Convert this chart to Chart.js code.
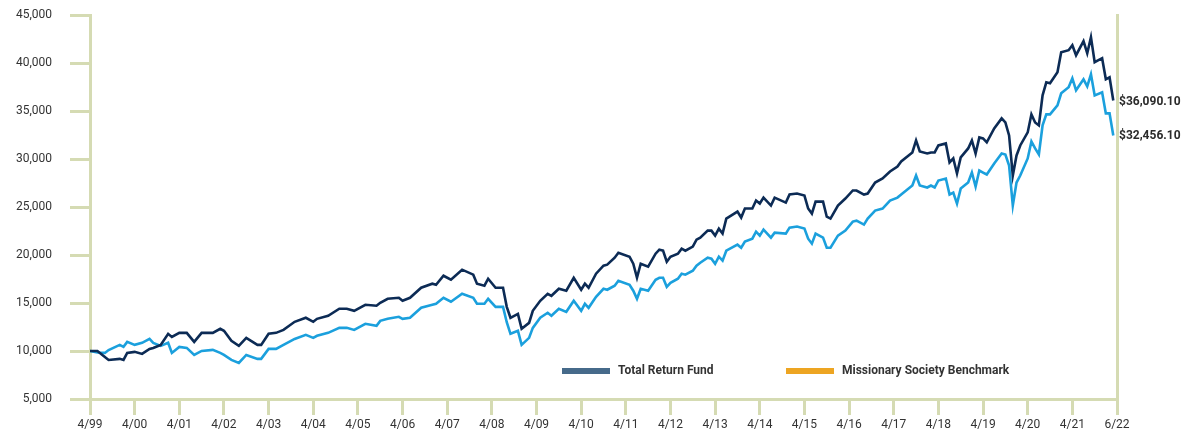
<!DOCTYPE html>
<html>
<head>
<meta charset="utf-8">
<style>
  html, body { margin: 0; padding: 0; background: #fff; }
  #wrap { width: 1183px; height: 437px; position: relative; }
</style>
<script src="https://cdn.jsdelivr.net/npm/chart.js@4.4.1/dist/chart.umd.min.js"></script>
</head>
<body>
<div id="wrap"><canvas id="myChart"></canvas></div>
<script>
"use strict";

// months since 4/99
const months = [0, 2, 4, 5, 8, 9, 10, 12, 14, 16, 17, 19, 21, 22, 24, 26, 28, 30, 33, 35, 36, 38, 40, 42, 45, 46, 48, 50, 52, 55, 58, 60, 61, 64, 67, 69, 71, 74, 77, 78, 80, 83, 84, 86, 89, 92, 93, 95, 97, 100, 103, 104, 106, 107, 109, 111, 112, 113, 115, 116, 118, 119, 121, 123, 124, 126, 128, 130, 132, 133, 134, 136, 138, 139, 141, 142, 145, 146, 147, 148, 150, 152, 153, 154, 155, 156, 158, 159, 160, 162, 163, 164, 166, 167, 168, 169, 170, 171, 174, 175, 176, 178, 179, 180, 181, 183, 184, 187, 188, 190, 192, 193, 194, 195, 197, 198, 199, 201, 203, 205, 206, 208, 209, 211, 213, 215, 217, 218, 221, 222, 223, 225, 226, 227, 228, 230, 231, 232, 233, 234, 236, 237, 238, 239, 240, 241, 243, 245, 246, 247, 248, 249, 250, 252, 253, 254, 255, 256, 257, 258, 260, 261, 263, 264, 265, 267, 268, 269, 270, 272, 273, 274, 275];

const fundValues = [10000, 10000, 9380, 9070, 9180, 9070, 9800, 9910, 9700, 10220, 10320, 10640, 11790, 11470, 11890, 11890, 10950, 11890, 11890, 12310, 12100, 11060, 10530, 11370, 10640, 10640, 11790, 11890, 12200, 13040, 13460, 13040, 13350, 13670, 14400, 14400, 14190, 14810, 14710, 15020, 15440, 15540, 15230, 15540, 16590, 17010, 16900, 17840, 17420, 18470, 17950, 17010, 16800, 17530, 16590, 16590, 14600, 13460, 13870, 12310, 12930, 14190, 15230, 15960, 15750, 16480, 16280, 17630, 16380, 17010, 16590, 18050, 18890, 18990, 19720, 20240, 19820, 19090, 17630, 19090, 18780, 20140, 20560, 20450, 19300, 19820, 20140, 20660, 20450, 20870, 21600, 21810, 22540, 22540, 22020, 22750, 22230, 23790, 24520, 23900, 24840, 24840, 25670, 25360, 25980, 25150, 25980, 25460, 26300, 26400, 26190, 24840, 24310, 25560, 25560, 23990, 23790, 25150, 25880, 26720, 26720, 26300, 26400, 27550, 27970, 28700, 29220, 29740, 30680, 31940, 30790, 30580, 30680, 30680, 31410, 31620, 29640, 30060, 28490, 30160, 31100, 31940, 30580, 32250, 32140, 31730, 33190, 34230, 33810, 32460, 28280, 30370, 31410, 32770, 34650, 33810, 33500, 36630, 37990, 37890, 39030, 41120, 41330, 41850, 40810, 42270, 41020, 42690, 40080, 40500, 38300, 38510, 36090.10];

const benchValues = [10000, 9850, 9800, 10100, 10640, 10430, 10950, 10640, 10850, 11260, 10850, 10530, 10850, 9800, 10430, 10320, 9590, 10010, 10120, 9800, 9590, 9070, 8760, 9590, 9180, 9180, 10220, 10220, 10640, 11260, 11680, 11370, 11580, 11890, 12410, 12410, 12200, 12830, 12620, 13140, 13350, 13560, 13350, 13460, 14500, 14810, 14920, 15540, 15130, 15960, 15540, 14920, 14920, 15440, 14600, 14600, 13000, 11790, 12100, 10640, 11370, 12410, 13460, 13980, 13670, 14400, 14080, 15230, 14190, 14920, 14500, 15650, 16480, 16380, 16800, 17320, 16900, 16280, 15440, 16480, 16280, 17420, 17630, 17630, 16690, 17110, 17530, 18050, 17950, 18360, 18890, 19200, 19720, 19620, 19090, 19820, 19410, 20450, 21080, 20760, 21390, 21700, 22430, 22020, 22640, 21810, 22330, 22230, 22850, 22960, 22750, 21700, 21180, 22230, 21810, 20760, 20760, 22020, 22540, 23480, 23580, 23170, 23790, 24630, 24840, 25670, 25980, 26300, 27240, 28280, 27240, 27030, 27240, 27030, 27760, 27970, 26300, 26510, 25360, 26920, 27550, 28590, 27130, 28800, 28590, 28390, 29530, 30580, 30470, 29320, 25150, 27550, 28280, 30060, 31830, 31100, 30470, 33500, 34650, 34650, 35590, 36840, 37470, 38410, 37160, 38300, 37570, 38820, 36630, 36950, 34750, 34750, 32456.10];

const tickMonths = [0, 12, 24, 36, 48, 60, 72, 84, 96, 108, 120, 132, 144, 156, 168, 180, 192, 204, 216, 228, 240, 252, 264, 276];
const tickLabels = ["4/99", "4/00", "4/01", "4/02", "4/03", "4/04", "4/05", "4/06", "4/07", "4/08", "4/09", "4/10", "4/11", "4/12", "4/13", "4/14", "4/15", "4/16", "4/17", "4/18", "4/19", "4/20", "4/21", "6/22"];

const seriesNames = ["Total Return Fund", "Missionary Society Benchmark"];

const axisColor = "#d5dbb3";
const textColor = "#333333";

// Legend drawn inside the plot, near the bottom
const insideLegend = {
  id: "insideLegend",
  afterDatasetsDraw(chart, args, opts) {
    const ctx = chart.ctx;
    ctx.save();
    ctx.font = "bold 12px Roboto, 'DejaVu Sans', sans-serif";
    ctx.textBaseline = "middle";
    opts.items.forEach((item, i) => {
      ctx.fillStyle = item.color;
      ctx.fillRect(item.x, opts.y - 3, 48, 6);
      ctx.fillStyle = textColor;
      ctx.fillText(seriesNames[i], item.x + 56, opts.y);
    });
    ctx.restore();
  },
};

// Ending values written to the right of the plot
const endLabels = {
  id: "endLabels",
  afterDatasetsDraw(chart) {
    const ctx = chart.ctx;
    ctx.save();
    ctx.font = "bold 12px Roboto, 'DejaVu Sans', sans-serif";
    ctx.textBaseline = "middle";
    ctx.fillStyle = "#2b2b2b";
    chart.data.datasets.forEach((ds, i) => {
      const meta = chart.getDatasetMeta(i);
      const last = meta.data[meta.data.length - 1];
      const v = ds.data[ds.data.length - 1].y;
      const txt = "$" + v.toLocaleString("en-US", { minimumFractionDigits: 2, maximumFractionDigits: 2 });
      ctx.fillText(txt, chart.chartArea.right + 2, last.y + 1);
    });
    ctx.restore();
  },
};

const ctx = document.getElementById("myChart").getContext("2d");
const myChart = new Chart(ctx, {
  type: "line",
  data: {
    datasets: [
      {
        label: seriesNames[0],
        data: months.map((m, i) => ({ x: m, y: fundValues[i] })),
        borderColor: "#0c2b55",
        borderWidth: 2.6,
        pointRadius: 0,
        tension: 0,
        order: 0,
      },
      {
        label: seriesNames[1],
        data: months.map((m, i) => ({ x: m, y: benchValues[i] })),
        borderColor: "#1ba0dd",
        borderWidth: 2.6,
        pointRadius: 0,
        tension: 0,
        order: 1,
      },
    ],
  },
  options: {
    responsive: true,
    maintainAspectRatio: false,
    animation: false,
    layout: { padding: { top: 15, right: 66, left: 0, bottom: 0 } },
    plugins: {
      legend: { display: false },
      tooltip: { enabled: false },
      insideLegend: {
        y: 371,
        items: [
          { x: 562, color: "#466a8a" },
          { x: 786, color: "#eda522" },
        ],
      },
    },
    scales: {
      x: {
        type: "linear",
        min: 0,
        max: 276,
        afterBuildTicks: (scale) => {
          scale.ticks = tickMonths.map((v) => ({ value: v }));
        },
        afterFit: (scale) => {
          scale.height = 38;
        },
        ticks: {
          autoSkip: false,
          maxRotation: 0,
          padding: 3,
          color: textColor,
          font: { family: "Roboto, 'DejaVu Sans', sans-serif", size: 12 },
          callback: (value) => {
            const i = tickMonths.indexOf(value);
            return i >= 0 ? tickLabels[i] : "";
          },
        },
        grid: {
          drawOnChartArea: false,
          drawTicks: true,
          tickLength: 16,
          color: axisColor,
          lineWidth: 3,
        },
        border: { display: true, color: axisColor, width: 3 },
      },
      y: {
        position: "left",
        min: 5000,
        max: 45000,
        afterFit: (scale) => {
          scale.width = 90;
          // tick padding is horizontal here; keep it out of the vertical room
          scale.paddingTop = 8;
          scale.paddingBottom = 8;
        },
        ticks: {
          stepSize: 5000,
          padding: 18,
          color: textColor,
          font: { family: "Roboto, 'DejaVu Sans', sans-serif", size: 12 },
          callback: (value) => value.toLocaleString("en-US"),
        },
        grid: {
          drawOnChartArea: false,
          drawTicks: true,
          tickLength: 20,
          color: axisColor,
          lineWidth: 3,
        },
        border: { display: true, color: axisColor, width: 3 },
      },
      yRight: {
        position: "right",
        min: 5000,
        max: 45000,
        afterFit: (scale) => {
          scale.width = 0;
          scale.paddingTop = 0;
          scale.paddingBottom = 0;
        },
        ticks: { display: false },
        grid: { display: false },
        border: { display: true, color: axisColor, width: 3 },
      },
    },
  },
  plugins: [insideLegend, endLabels],
});
</script>
</body>
</html>
